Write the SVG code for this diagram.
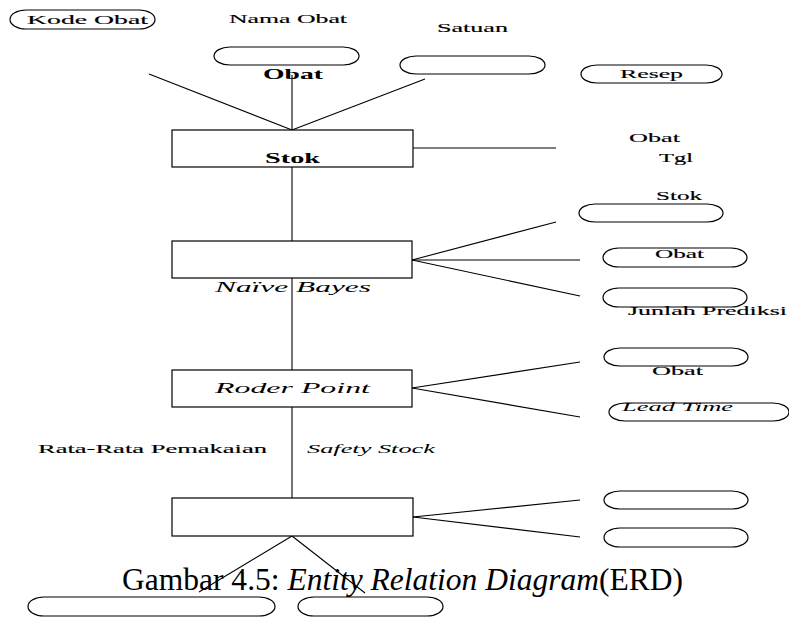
<svg xmlns="http://www.w3.org/2000/svg" width="789" height="620" viewBox="0 0 789 620">
  <style>
    .ent { fill: #fff; stroke: #000; stroke-width: 1.2; }
    .attr { fill: #fff; stroke: #000; stroke-width: 1.2; }
    .link { stroke: #000; stroke-width: 1.1; fill: none; }
    .lbl { font-family: "Liberation Serif", "Times New Roman", serif; font-size: 12px; fill: #000; stroke: #000; stroke-width: 0.15px; }
    .big { font-family: "Liberation Serif", "Times New Roman", serif; font-weight: bold; font-size: 14px; fill: #000; }
    .it { font-family: "Liberation Serif", "Times New Roman", serif; font-style: italic; font-size: 14.5px; fill: #000; }
    .its { font-family: "Liberation Serif", "Times New Roman", serif; font-style: italic; font-size: 12.5px; fill: #000; }
    .cap { font-family: "Liberation Serif", "Times New Roman", serif; font-size: 32px; fill: #000; }
  </style>

  <rect width="789" height="620" fill="#fff"/>

  <!-- connectors -->
  <g id="connectors">
    <line class="link" x1="149" y1="74" x2="292" y2="130"/>
    <line class="link" x1="292" y1="75" x2="292" y2="130"/>
    <line class="link" x1="425" y1="79" x2="292" y2="130"/>
    <line class="link" x1="413" y1="148" x2="556" y2="148"/>
    <line class="link" x1="292" y1="167" x2="292" y2="241"/>
    <line class="link" x1="412" y1="260" x2="556" y2="222"/>
    <line class="link" x1="412" y1="260" x2="580" y2="260"/>
    <line class="link" x1="412" y1="260" x2="580" y2="296"/>
    <line class="link" x1="292" y1="278" x2="292" y2="370"/>
    <line class="link" x1="412" y1="388" x2="580" y2="362"/>
    <line class="link" x1="412" y1="388" x2="580" y2="417"/>
    <line class="link" x1="292" y1="407" x2="292" y2="498"/>
    <line class="link" x1="413" y1="517" x2="580" y2="500"/>
    <line class="link" x1="413" y1="517" x2="580" y2="537"/>
    <line class="link" x1="292" y1="536" x2="199" y2="592"/>
    <line class="link" x1="292" y1="536" x2="365" y2="593"/>
  </g>

  <!-- Obat entity with attributes -->
  <g id="attr-kode-obat">
    <rect class="attr" x="10" y="10" width="145" height="19" rx="16" ry="9.5"/>
    <text class="lbl" x="27" y="24" textLength="121" lengthAdjust="spacingAndGlyphs">Kode Obat</text>
  </g>
  <g id="attr-nama-obat">
    <text class="lbl" x="229" y="23" textLength="118" lengthAdjust="spacingAndGlyphs">Nama Obat</text>
    <rect class="attr" x="214" y="47" width="145" height="18" rx="16" ry="9"/>
  </g>
  <g id="entity-obat">
    <text class="big" x="263" y="79" textLength="60" lengthAdjust="spacingAndGlyphs">Obat</text>
  </g>
  <g id="attr-satuan">
    <text class="lbl" x="437" y="32" textLength="71" lengthAdjust="spacingAndGlyphs">Satuan</text>
    <rect class="attr" x="400" y="56" width="145" height="18" rx="16" ry="9"/>
  </g>
  <g id="attr-resep">
    <rect class="attr" x="581" y="65" width="141" height="18" rx="16" ry="9"/>
    <text class="lbl" x="620" y="78" textLength="63" lengthAdjust="spacingAndGlyphs">Resep</text>
  </g>

  <!-- Stok entity -->
  <g id="entity-stok">
    <rect class="ent" x="172" y="130" width="241" height="37"/>
    <text class="big" x="265" y="163" textLength="55" lengthAdjust="spacingAndGlyphs">Stok</text>
  </g>
  <g id="attr-stok-obat-tgl">
    <text class="lbl" x="629" y="142" textLength="51" lengthAdjust="spacingAndGlyphs">Obat</text>
    <text class="lbl" x="659" y="162" textLength="34" lengthAdjust="spacingAndGlyphs">Tgl</text>
  </g>

  <!-- Naive Bayes entity -->
  <g id="entity-naive-bayes">
    <rect class="ent" x="172" y="241" width="240" height="37"/>
    <text class="it" x="215" y="292" textLength="156" lengthAdjust="spacingAndGlyphs">Naïve Bayes</text>
  </g>
  <g id="attr-nb-stok">
    <text class="lbl" x="656" y="200" textLength="46" lengthAdjust="spacingAndGlyphs">Stok</text>
    <rect class="attr" x="579" y="204" width="144" height="18" rx="16" ry="9"/>
  </g>
  <g id="attr-nb-obat">
    <rect class="attr" x="603" y="248" width="144" height="19" rx="16" ry="9.5"/>
    <text class="lbl" x="655" y="258" textLength="49" lengthAdjust="spacingAndGlyphs">Obat</text>
  </g>
  <g id="attr-nb-prediksi">
    <rect class="attr" x="603" y="288" width="144" height="19" rx="16" ry="9.5"/>
    <text class="lbl" x="628" y="315" textLength="159" lengthAdjust="spacingAndGlyphs">Junlah Prediksi</text>
  </g>

  <!-- Reorder point entity -->
  <g id="entity-roder-point">
    <rect class="ent" x="172" y="370" width="240" height="37"/>
    <text class="it" x="215" y="393" textLength="155" lengthAdjust="spacingAndGlyphs">Roder Point</text>
  </g>
  <g id="attr-rp-obat">
    <rect class="attr" x="604" y="348" width="144" height="18" rx="16" ry="9"/>
    <text class="lbl" x="652" y="375" textLength="51" lengthAdjust="spacingAndGlyphs">Obat</text>
  </g>
  <g id="attr-rp-lead-time">
    <rect class="attr" x="609" y="403" width="180" height="18" rx="16" ry="9"/>
    <text class="its" x="622" y="411" textLength="111" lengthAdjust="spacingAndGlyphs">Lead Time</text>
  </g>

  <!-- Safety stock entity -->
  <g id="labels-safety">
    <text class="lbl" x="38" y="453" textLength="229" lengthAdjust="spacingAndGlyphs">Rata-Rata Pemakaian</text>
    <text class="its" x="307" y="453" textLength="128" lengthAdjust="spacingAndGlyphs">Safety Stock</text>
  </g>
  <g id="entity-safety-stock">
    <rect class="ent" x="172" y="498" width="241" height="38"/>
  </g>
  <g id="attr-ss-1">
    <rect class="attr" x="604" y="491" width="144" height="18" rx="16" ry="9"/>
  </g>
  <g id="attr-ss-2">
    <rect class="attr" x="604" y="528" width="144" height="19" rx="16" ry="9.5"/>
  </g>
  <g id="attr-ss-3">
    <rect class="attr" x="28" y="597" width="247" height="19" rx="16" ry="9.5"/>
  </g>
  <g id="attr-ss-4">
    <rect class="attr" x="298" y="597" width="145" height="19" rx="16" ry="9.5"/>
  </g>

  <!-- figure caption -->
  <text class="cap" x="122" y="590" textLength="561" lengthAdjust="spacingAndGlyphs">Gambar 4.5: <tspan font-style="italic">Entity Relation Diagram</tspan>(ERD)</text>
</svg>
